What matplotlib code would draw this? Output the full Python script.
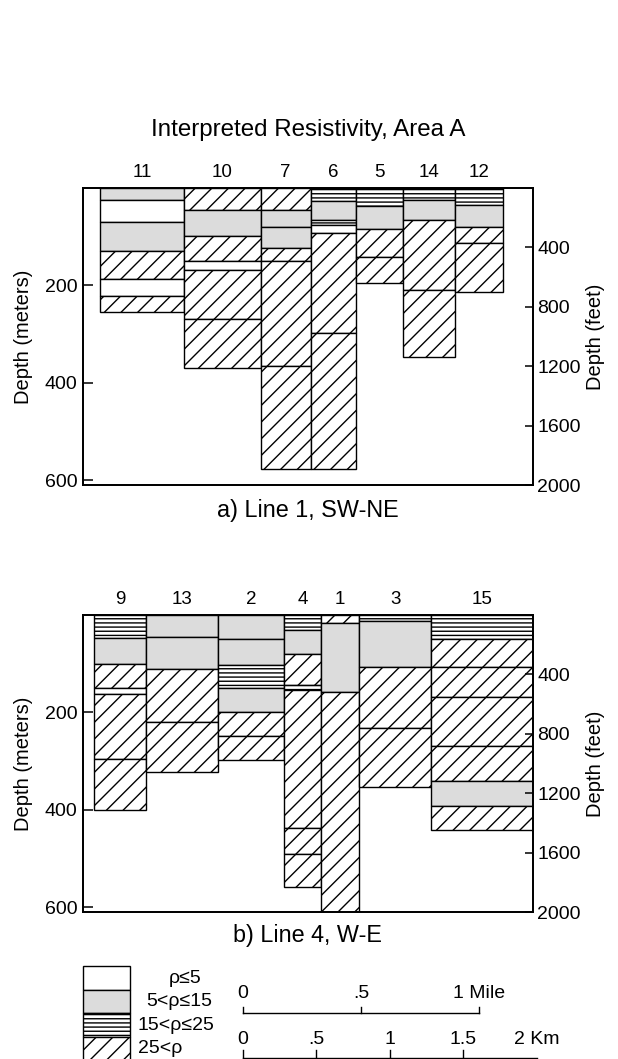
import matplotlib
matplotlib.use("Agg")
import matplotlib.pyplot as plt
from matplotlib.patches import Rectangle
from matplotlib.transforms import blended_transform_factory

plt.rcParams['font.family'] = ['Liberation Sans', 'DejaVu Sans']
plt.rcParams['hatch.linewidth'] = 1.0

# resistivity classes: 0 rho<=5, 1 5<rho<=15, 2 15<rho<=25, 3 25<rho
class_labels = ['ρ≤5', '5<ρ≤15', '15<ρ≤25', '25<ρ']

# a) Line 1, SW-NE  (x in km along line, depth in metres)
line1_stations = ['11', '10', '7', '6', '5', '14', '12']
line1_edges = [0.12, 0.69, 1.21, 1.55, 1.86, 2.18, 2.53, 2.86]
line1_depths = [
    [0, 24, 69, 129, 186, 222, 254],
    [0, 45, 99, 150, 169, 269, 370],
    [0, 45, 81, 123, 150, 366, 576],
    [0, 26, 66, 77, 93, 298, 576],
    [0, 37, 84, 141, 194],
    [0, 25, 66, 210, 347],
    [0, 35, 80, 112, 213],
]
line1_classes = [
    [1, 0, 1, 3, 0, 3],
    [3, 1, 3, 0, 3, 3],
    [3, 1, 1, 3, 3, 3],
    [2, 1, 2, 0, 3, 3],
    [2, 1, 3, 3],
    [2, 1, 3, 3],
    [2, 1, 3, 3],
]

# b) Line 4, W-E
line4_stations = ['9', '13', '2', '4', '1', '3', '15']
line4_edges = [0.08, 0.43, 0.92, 1.37, 1.62, 1.88, 2.37, 3.06]
line4_depths = [
    [0, 47, 101, 149, 163, 295, 401],
    [0, 46, 111, 219, 323],
    [0, 49, 103, 149, 199, 249, 297],
    [0, 31, 81, 144, 154, 438, 490, 558],
    [0, 17, 159, 610],
    [0, 12, 106, 233, 353],
    [0, 49, 106, 168, 269, 341, 392, 441],
]
line4_classes = [
    [2, 1, 3, 0, 3, 3],
    [1, 1, 3, 3],
    [1, 1, 2, 1, 3, 3],
    [2, 1, 3, 2, 3, 3, 3],
    [3, 1, 3],
    [2, 1, 3, 3],
    [2, 3, 3, 3, 3, 1, 3],
]

meter_ticks = [200, 400, 600]
feet_ticks = [400, 800, 1200, 1600, 2000]
km_ticks = [0, 0.5, 1, 1.5, 2]
km_labels = ['0', '.5', '1', '1.5', '2 Km']
mile_ticks = [0, 0.5, 1]
mile_labels = ['0', '.5', '1 Mile']

FT = 0.3048
MILE = 1.609344
DEPTH_MAX = 2000 * FT
XMAX = 3.063


def fill_style(c):
    if c == 0:
        return dict(facecolor='white')
    if c == 1:
        return dict(facecolor='#dcdcdc')
    if c == 2:
        return dict(facecolor='white', hatch='----')
    return dict(facecolor='white', hatch='//')


def draw_section(ax, stations, edges, depths, classes):
    trans = blended_transform_factory(ax.transData, ax.transAxes)
    for i, name in enumerate(stations):
        x0, x1 = edges[i], edges[i + 1]
        d = depths[i]
        for top, bot, c in zip(d[:-1], d[1:], classes[i]):
            ax.add_patch(Rectangle((x0, top), x1 - x0, bot - top,
                                   edgecolor='black', lw=1.0, **fill_style(c)))
        ax.text((x0 + x1) / 2, 1.053, name, transform=trans,
                ha='center', va='center', fontsize=13.5)

    ax.set_xlim(0, XMAX)
    ax.set_ylim(DEPTH_MAX, 0)
    ax.set_xticks([])
    ax.set_yticks(meter_ticks)
    ax.tick_params(axis='y', direction='in', length=7, width=1.1,
                   labelsize=14, pad=4)
    ax.set_ylabel('Depth (meters)', fontsize=14.5)
    ax.yaxis.set_label_coords(-0.11, 0.5)
    for s in ax.spines.values():
        s.set_linewidth(1.3)

    axr = ax.twinx()
    axr.set_ylim(DEPTH_MAX / FT, 0)
    axr.set_yticks(feet_ticks)
    axr.tick_params(axis='y', direction='in', length=6, width=1.1,
                    labelsize=14, pad=3)
    axr.set_ylabel('Depth (feet)', fontsize=14.5)
    axr.yaxis.set_label_coords(1.118, 0.5)
    for s in axr.spines.values():
        s.set_linewidth(1.3)


fig = plt.figure(figsize=(6.18, 10.59), dpi=100)

fig.text(0.498, 0.877, 'Interpreted Resistivity, Area A',
         ha='center', va='center', fontsize=17.4)

ax1 = fig.add_axes([0.1338, 0.542, 0.7286, 0.2805])
draw_section(ax1, line1_stations, line1_edges, line1_depths, line1_classes)
fig.text(0.498, 0.518, 'a) Line 1, SW-NE', ha='center', va='center', fontsize=16.8)

ax2 = fig.add_axes([0.1338, 0.1388, 0.7286, 0.2805])
draw_section(ax2, line4_stations, line4_edges, line4_depths, line4_classes)
fig.text(0.498, 0.117, 'b) Line 4, W-E', ha='center', va='center', fontsize=16.8)

# legend and scale bars (y in pixel rows of the bottom strip)
axl = fig.add_axes([0.1338, 0.0, 0.7286, 99 / 1059])
axl.set_xlim(0, XMAX)
axl.set_ylim(1059, 960)
axl.axis('off')

sw_top = 966
sw_h = 23.5
label_pos = [(0.70, 'center'), (0.88, 'right'), (0.375, 'left'), (0.375, 'left')]
for k, lab in enumerate(class_labels):
    y0 = sw_top + k * sw_h
    axl.add_patch(Rectangle((0.0, y0), 0.32, sw_h, edgecolor='black',
                            lw=1.0, clip_on=False, **fill_style(k)))
    lx, ha = label_pos[k]
    axl.text(lx, y0 + sw_h / 2 + 0.5, lab, ha=ha, va='center', fontsize=14)

x_origin = 1.088
mile_x = [x_origin + m * MILE for m in mile_ticks]
axl.plot([mile_x[0], mile_x[-1]], [1013, 1013], color='black', lw=1.0)
for x, lab in zip(mile_x, mile_labels):
    axl.plot([x, x], [1013, 1007], color='black', lw=1.0)
    axl.text(x, 994, lab, ha='center', va='center', fontsize=14)

km_x = [x_origin + k for k in km_ticks]
axl.plot([km_x[0], km_x[-1]], [1058, 1058], color='black', lw=1.0, clip_on=False)
for x, lab in zip(km_x, km_labels):
    axl.plot([x, x], [1058, 1050], color='black', lw=1.0)
    axl.text(x, 1039, lab, ha='center', va='center', fontsize=14)

fig.savefig('out.png', dpi=100)
